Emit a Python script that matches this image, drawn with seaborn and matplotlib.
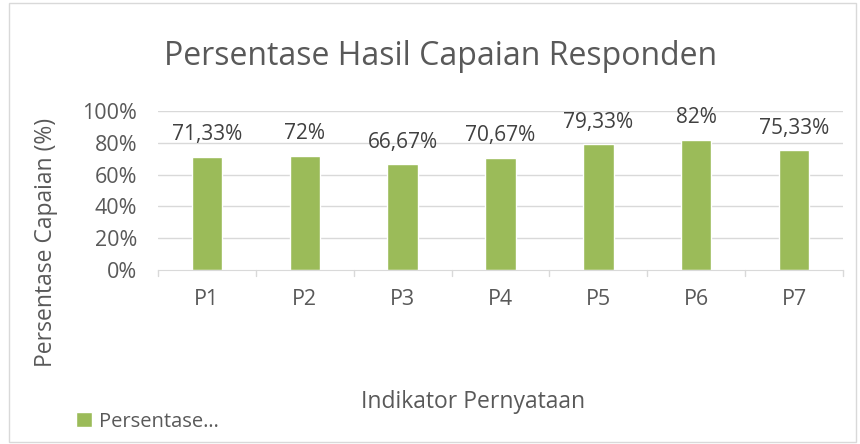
import matplotlib
matplotlib.use("Agg")
import matplotlib.pyplot as plt
import seaborn as sns
import pandas as pd
from matplotlib.patches import Rectangle

categories = ["P1", "P2", "P3", "P4", "P5", "P6", "P7"]
values = [71.33, 72, 66.67, 70.67, 79.33, 82, 75.33]
labels = ["71,33%", "72%", "66,67%", "70,67%", "79,33%", "82%", "75,33%"]
yticks = [0, 20, 40, 60, 80, 100]

sns.set_style("white")
plt.rcParams["font.family"] = ["Open Sans", "DejaVu Sans"]
txt = "#595959"
green = "#9BBB59"

df = pd.DataFrame({"Indikator": categories, "Persentase": values})

fig = plt.figure(figsize=(8.6, 4.44), dpi=100)
ax = fig.add_axes([0.1837, 0.392, 0.7965, 0.358])
sns.barplot(data=df, x="Indikator", y="Persentase", color=green,
            width=0.31, saturation=1, ax=ax, label="Persentase…")

ax.set_ylim(0, 100)
ax.set_xlim(-0.5, len(categories) - 0.5)
ax.set_yticks(yticks)
ax.set_yticklabels([f"{t}%" for t in yticks], fontsize=15.5, color=txt)
ax.tick_params(axis="y", length=0, pad=15)
ax.set_xticks(range(len(categories)))
ax.set_xticklabels(categories, fontsize=15.5, color=txt)
ax.tick_params(axis="x", length=0, pad=14)
for t in yticks[1:]:
    ax.axhline(t, color="#D9D9D9", lw=1, zorder=0)
# category separator ticks
for b in [i - 0.5 for i in range(len(categories) + 1)]:
    ax.plot([b, b], [0, -4], color="#D9D9D9", lw=1, clip_on=False)
for s in ["top", "right", "left"]:
    ax.spines[s].set_visible(False)
ax.spines["bottom"].set_color("#D9D9D9")
ax.set_axisbelow(True)

for i, (v, lab) in enumerate(zip(values, labels)):
    ax.text(i, v + 7, lab, ha="center", va="bottom", fontsize=15, color="#404040")

ax.set_xlabel("Indikator Pernyataan", fontsize=16.5, color=txt)
ax.xaxis.set_label_coords(0.46, -0.755)
ax.set_ylabel("Persentase Capaian (%)", fontsize=16.5, color=txt)
ax.yaxis.set_label_coords(-0.146, 0.17)
fig.text(0.512, 0.872, "Persentase Hasil Capaian Responden", ha="center", va="center",
         fontsize=23, color=txt)

leg = ax.legend(loc="center left", bbox_to_anchor=(-0.119, -0.955), frameon=False,
                fontsize=14.5, handlelength=0.75, handleheight=0.75, handletextpad=0.35,
                borderaxespad=0, borderpad=0)
for t in leg.get_texts():
    t.set_color(txt)

fig.patches.append(Rectangle((0.01, 0.004), 0.985, 0.99, transform=fig.transFigure,
                             fill=False, edgecolor="#D9D9D9", lw=1))

fig.savefig("out.png", dpi=100)
